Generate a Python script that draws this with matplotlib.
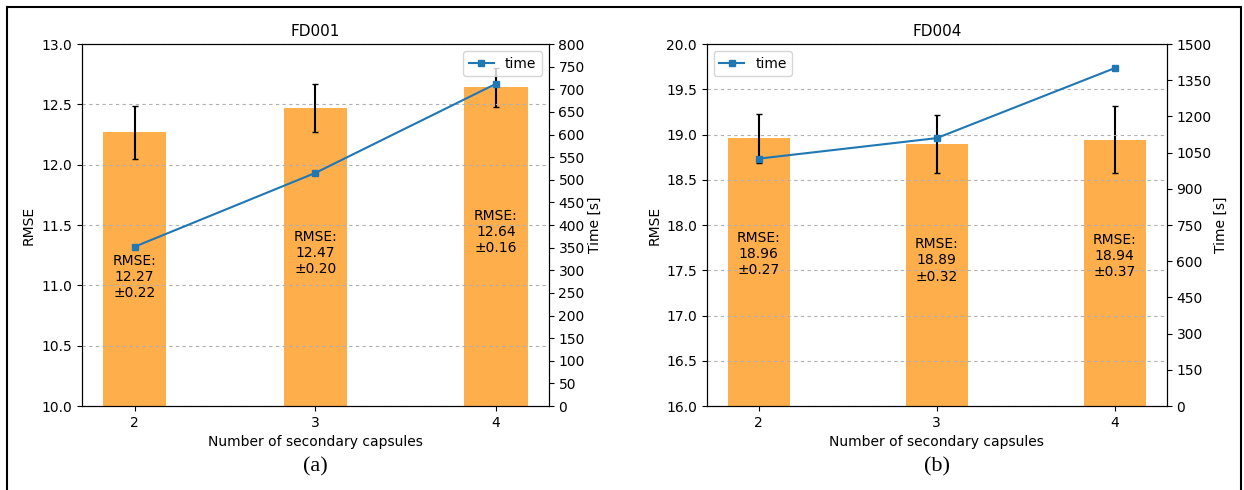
import numpy as np
import matplotlib.pyplot as plt
from matplotlib.patches import Rectangle

capsules = [2, 3, 4]

# FD001
fd001_rmse = [12.27, 12.47, 12.64]
fd001_std = [0.22, 0.20, 0.16]
fd001_time = [352, 515, 712]

# FD004
fd004_rmse = [18.96, 18.89, 18.94]
fd004_std = [0.27, 0.32, 0.37]
fd004_time = [1025, 1110, 1400]

panels = [
    ("FD001", fd001_rmse, fd001_std, fd001_time, (10.0, 13.0), 0.5, (0, 800), 50, 1.2, "upper right", "(a)"),
    ("FD004", fd004_rmse, fd004_std, fd004_time, (16.0, 20.0), 0.5, (0, 1500), 150, 1.28, "upper left", "(b)"),
]

fig = plt.figure(figsize=(12.44, 4.9), dpi=100)
positions = [[0.0657, 0.1714, 0.3754, 0.7388], [0.5681, 0.1714, 0.3698, 0.7388]]
label_x = [(-0.098, 1.084), (-0.099, 1.103)]

for pos, lx, (title, rmse, std, t, ylim, ystep, tlim, tstep, txt_off, loc, cap) in zip(positions, label_x, panels):
    ax = fig.add_axes(pos)
    ax.bar(capsules, rmse, width=0.35, color='darkorange', alpha=0.7,
           yerr=std, error_kw=dict(ecolor='black', elinewidth=1.5, capsize=2, capthick=1))
    ax.set_ylim(*ylim)
    ax.set_yticks(np.arange(ylim[0], ylim[1] + 0.01, ystep))
    ax.set_xticks(capsules)
    ax.yaxis.grid(True, linestyle=(0, (3, 3)), color='#b0b0b0', linewidth=0.8)
    ax.set_axisbelow(False)
    ax.set_ylabel('RMSE', fontsize=10)
    ax.yaxis.set_label_coords(lx[0], 0.5)
    ax.set_xlabel('Number of secondary capsules', fontsize=10)
    ax.set_title(title, fontsize=11)
    ax.tick_params(labelsize=10)
    for x, r, s in zip(capsules, rmse, std):
        ax.text(x, r - txt_off, f"RMSE:\n{r:.2f}\n\u00b1{s:.2f}", ha='center', va='center', fontsize=10)

    ax2 = ax.twinx()
    ax2.plot(capsules, t, marker='s', markersize=4, color='#1f77b4', linewidth=1.5, label='time')
    ax2.set_ylim(*tlim)
    ax2.set_yticks(np.arange(tlim[0], tlim[1] + 1, tstep))
    ax2.set_ylabel('Time [s]', fontsize=10)
    ax2.yaxis.set_label_coords(lx[1], 0.5)
    ax2.tick_params(labelsize=10)
    ax2.legend(loc=loc, fontsize=10, handlelength=1.8)

    cx = pos[0] + pos[2] / 2
    fig.text(cx, 0.047, cap, ha='center', va='center', fontsize=16, family='Liberation Serif')

fig.patches.append(Rectangle((7 / 1244, -0.1), 1234 / 1244, 1.1 - 7 / 490, transform=fig.transFigure,
                             fill=False, edgecolor='black', linewidth=1.5))

fig.savefig('out.png', dpi=100)
